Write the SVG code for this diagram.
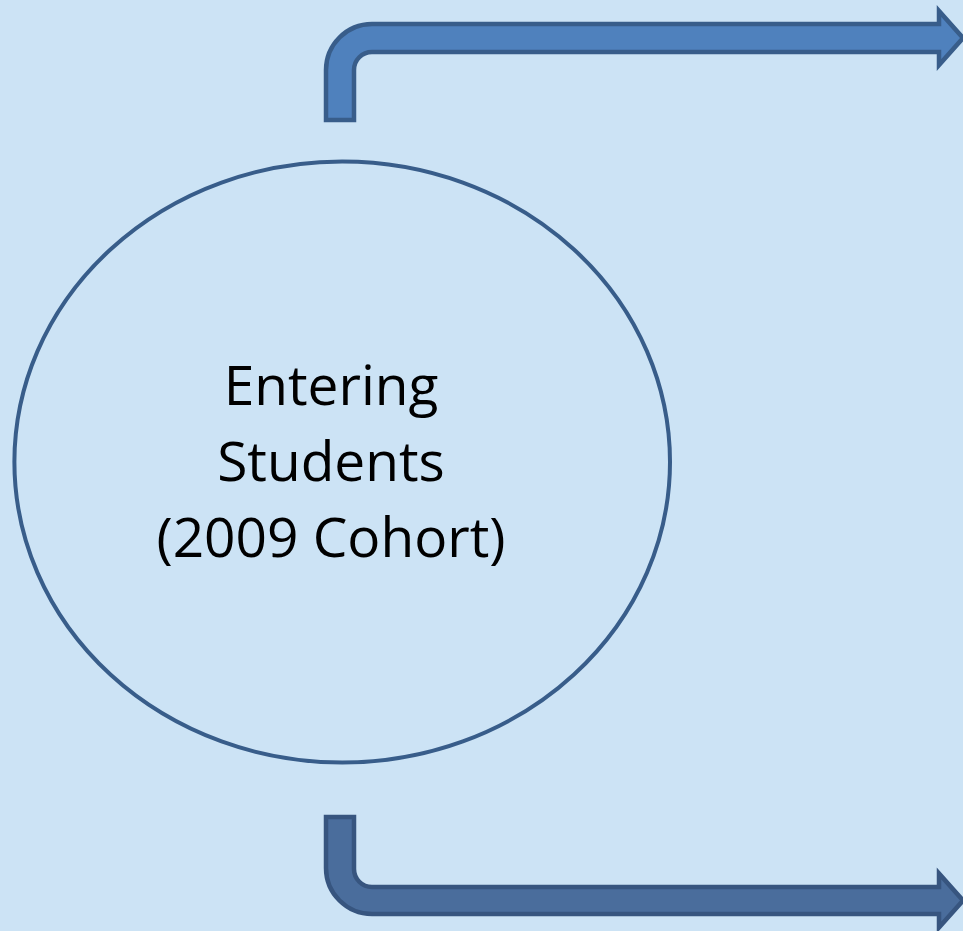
<svg xmlns="http://www.w3.org/2000/svg" width="963" height="931" viewBox="0 0 963 931">
  <style>
    .bg { fill: #CCE3F5; }
    .node { fill: none; stroke: #385D8A; stroke-width: 4; }
    .label { font-family: "Open Sans", "Liberation Sans", sans-serif; font-size: 55px; fill: #000000; text-anchor: middle; }
    .arrow { stroke-width: 4.5; stroke-linejoin: miter; }
    .arrow-top { fill: #4F81BD; stroke: #385D8A; }
    .arrow-bottom { fill: #4A6D9C; stroke: #37557F; }
  </style>
  <rect class="bg" x="0" y="0" width="963" height="931"/>
  <g id="connectors">
    <path id="arrow-top" class="arrow arrow-top" d="M326,120 L326,70 A46,46 0 0 1 372,24 L939,24 L939,11 L963,38 L939,65 L939,52 L372,52 A18,18 0 0 0 354,70 L354,120 Z"/>
    <path id="arrow-bottom" class="arrow arrow-bottom" d="M326,817 L326,868 A46,46 0 0 0 372,914 L939,914 L939,927.5 L963,900.5 L939,873.5 L939,887 L372,887 A18,18 0 0 1 354,869 L354,817 Z"/>
  </g>
  <g id="node-entering-students">
    <ellipse class="node" cx="342.2" cy="462" rx="327.8" ry="300.5"/>
    <text class="label" x="331" y="405">Entering</text>
    <text class="label" x="331" y="481">Students</text>
    <text class="label" x="331" y="557">(2009 Cohort)</text>
  </g>
</svg>
